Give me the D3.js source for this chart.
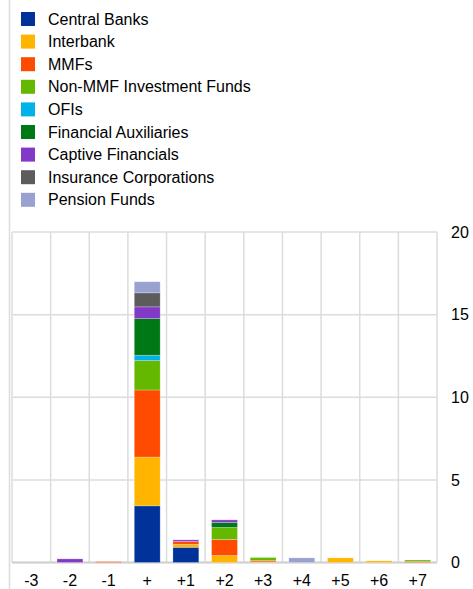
<!DOCTYPE html>
<html lang="en">
<head>
    <meta charset="UTF-8">
    <title>Stacked bars</title>
    <script src="https://cdn.jsdelivr.net/npm/d3@7"></script>
    <style>
        body {
            margin: 0;
            background-color: white;
        }
        svg text {
            font-family: "Liberation Sans", Arial, sans-serif;
        }
        .grid line {
            stroke: #dcdcdc;
            stroke-width: 1.5;
        }
        .lbl {
            font-size: 16px;
            fill: #000;
        }
    </style>
</head>
<body>
    <svg id="chart" width="473" height="589"></svg>
    <script>
        // categories and stacked series
        let categories = ["-3", "-2", "-1", "+", "+1", "+2", "+3", "+4", "+5", "+6", "+7"]
        let seriesNames = ["Central Banks", "Interbank", "MMFs", "Non-MMF Investment Funds", "OFIs",
                           "Financial Auxiliaries", "Captive Financials", "Insurance Corporations", "Pension Funds"]
        let seriesColors = ["#003299", "#ffb400", "#ff4b00", "#65b800", "#00b1ea",
                            "#007816", "#8139c6", "#5c5c5c", "#98a1d0"]

        let centralBanks = [0, 0, 0, 3.43, 0.92, 0, 0, 0, 0, 0, 0]
        let interbank    = [0, 0, 0, 2.95, 0.18, 0.42, 0.04, 0, 0.28, 0.1, 0]
        let mmfs         = [0, 0, 0.05, 4.06, 0.17, 0.97, 0.08, 0, 0, 0, 0.06]
        let nonMMF       = [0, 0, 0, 1.78, 0, 0.73, 0.18, 0, 0, 0, 0.09]
        let ofis         = [0, 0, 0, 0.32, 0, 0, 0, 0, 0, 0, 0]
        let finAux       = [0, 0, 0, 2.22, 0, 0.3, 0, 0, 0, 0, 0]
        let captive      = [0, 0.22, 0, 0.71, 0.1, 0.16, 0, 0, 0, 0, 0]
        let insurance    = [0, 0, 0, 0.85, 0, 0, 0, 0, 0, 0, 0]
        let pension      = [0, 0, 0, 0.67, 0, 0, 0, 0.28, 0, 0, 0]

        let yTicks = [0, 5, 10, 15, 20]

        let allSeries = [centralBanks, interbank, mmfs, nonMMF, ofis, finAux, captive, insurance, pension]

        // build rows for d3.stack
        let rows = categories.map(function (c, i) {
            let r = {cat: c}
            seriesNames.forEach(function (s, j) { r[s] = allSeries[j][i] })
            return r
        })

        let svg = d3.select("#chart")
        let plotL = 12, plotR = 437, plotT = 232, plotB = 562.5

        let x = d3.scaleBand().domain(categories).range([plotL, plotR])
        let y = d3.scaleLinear().domain([0, 20]).range([plotB, plotT])

        // page left rule
        svg.append("line")
            .attr("x1", 9.5).attr("x2", 9.5)
            .attr("y1", 0).attr("y2", 589)
            .attr("stroke", "#dcdcdc").attr("stroke-width", 1.5)

        // grid
        let grid = svg.append("g").attr("class", "grid")
        grid.selectAll(".h")
            .data(yTicks)
            .enter()
            .append("line")
            .attr("x1", plotL).attr("x2", plotR)
            .attr("y1", d => y(d)).attr("y2", d => y(d))
        let bounds = categories.map(c => x(c)).concat([plotR])
        grid.selectAll(".v")
            .data(bounds)
            .enter()
            .append("line")
            .attr("x1", d => d).attr("x2", d => d)
            .attr("y1", plotT).attr("y2", plotB)
        svg.append("line")
            .attr("x1", plotL).attr("x2", plotR)
            .attr("y1", plotB).attr("y2", plotB)
            .attr("stroke", "#d0d0d0").attr("stroke-width", 2)

        // stacked bars
        let stacked = d3.stack().keys(seriesNames)(rows)
        let barW = x.bandwidth() * 0.67
        let layers = svg.append("g")
            .selectAll("g")
            .data(stacked)
            .enter()
            .append("g")
            .attr("fill", (d, i) => seriesColors[i])

        layers.selectAll("rect")
            .data(d => d.filter(p => p[1] - p[0] > 0))
            .enter()
            .append("rect")
            .attr("x", d => x(d.data.cat) + (x.bandwidth() - barW) / 2)
            .attr("width", barW)
            .attr("y", d => y(d[1]))
            .attr("height", d => y(d[0]) - y(d[1]))
            .attr("stroke", "white")
            .attr("stroke-opacity", 0.3)
            .attr("stroke-width", 0.8)

        // y axis labels on the right
        let yAxis = d3.axisRight(y).tickValues(yTicks).tickSize(0).tickPadding(0)
        let ya = svg.append("g")
            .attr("transform", "translate(451,0)")
            .call(yAxis)
            .attr("font-family", null)
            .attr("font-size", null)
        ya.select(".domain").remove()
        ya.selectAll("text").attr("class", "lbl")

        // x axis labels
        let xAxis = d3.axisBottom(x).tickSize(0).tickPadding(0)
        let xa = svg.append("g")
            .attr("transform", "translate(0,575)")
            .call(xAxis)
            .attr("font-family", null)
            .attr("font-size", null)
        xa.select(".domain").remove()
        xa.selectAll("text").attr("class", "lbl")

        // legend
        let legend = svg.append("g")
            .selectAll("g")
            .data(seriesNames)
            .enter()
            .append("g")
            .attr("transform", (d, i) => "translate(21," + (19 + i * 22.6) + ")")
        legend.append("rect")
            .attr("x", 0).attr("y", -7)
            .attr("width", 14).attr("height", 14)
            .attr("fill", (d, i) => seriesColors[i])
        legend.append("text")
            .attr("class", "lbl")
            .attr("x", 27)
            .attr("dy", "0.35em")
            .text(d => d)
    </script>
</body>
</html>
